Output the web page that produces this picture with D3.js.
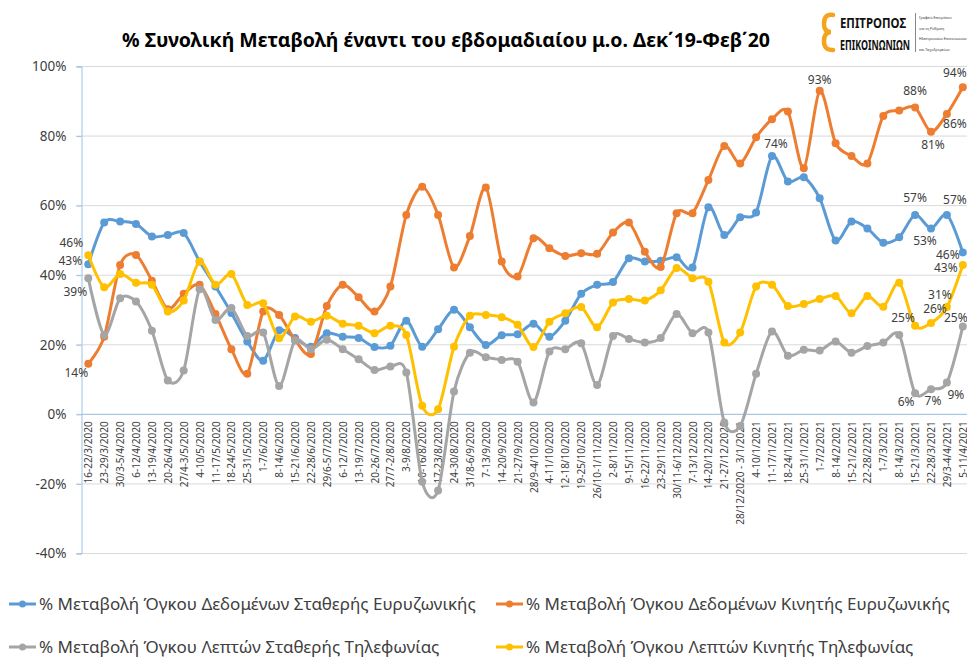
<!DOCTYPE html>
<html>
<head>
<meta charset="utf-8">
<script src="https://cdn.jsdelivr.net/npm/d3@7"></script>
<style>
  body { margin: 0; background: #fff; }
  text { font-family: 'Noto Sans', 'Open Sans', sans-serif; }
</style>
</head>
<body>
<div id="chart-area"></div>
<script>
// weekly categories
let categories = [
  '16-22/3/2020', '23-29/3/2020', '30/3-5/4/2020', '6-12/4/2020', '13-19/4/2020',
  '20-26/4/2020', '27/4-3/5/2020', '4-10/5/2020', '11-17/5/2020', '18-24/5/2020',
  '25-31/5/2020', '1-7/6/2020', '8-14/6/2020', '15-21/6/2020', '22-28/6/2020',
  '29/6-5/7/2020', '6-12/7/2020', '13-19/7/2020', '20-26/7/2020', '27/7-2/8/2020',
  '3-9/8/2020', '10-16/8/2020', '17-23/8/2020', '24-30/8/2020', '31/8-6/9/2020',
  '7-13/9/2020', '14-20/9/2020', '21-27/9/2020', '28/9-4/10/2020', '4-11/10/2020',
  '12-18/10/2020', '19-25/10/2020', '26/10-1/11/2020', '2-8/11/2020', '9-15/11/2020',
  '16-22/11/2020', '23-29/11/2020', '30/11-6/12/2020', '7-13/12/2020', '14-20/12/2020',
  '21-27/12/2020', '28/12/2020 - 3/1/2021', '4-10/1/2021', '11-17/1/2021', '18-24/1/2021',
  '25-31/1/2021', '1-7/2/2021', '8-14/2/2021', '15-21/2/2021', '22-28/2/2021',
  '1-7/3/2021', '8-14/3/2021', '15-21/3/2021', '22-28/3/2021', '29/3-4/4/2021',
  '5-11/4/2021'
];

let fixedBroadband = [
  43, 55, 55.3, 54.6, 51, 51.4, 52, 43.8, 36.6, 29,
  20.8, 15.3, 24, 21.8, 19.3, 23.2, 22.2, 21.8, 19.2, 19.6,
  26.8, 19.3, 24.3, 29.9, 24.9, 19.8, 22.6, 22.9, 25.9, 22.2,
  26.8, 34.5, 37.1, 37.9, 44.7, 43.8, 44, 45, 42.1, 59.4,
  51.4, 56.5, 57.9, 74.1, 66.8, 68, 62, 49.8, 55.3, 53.3,
  49.2, 50.8, 57.2, 53.3, 57.2, 46.4
];

let mobileBroadband = [
  14.4, 22.2, 42.8, 45.7, 38.3, 30.1, 34.5, 37.1, 28.7, 18.6,
  11.5, 29.4, 28.4, 21.3, 17.2, 31, 37.1, 33.5, 29.4, 36.6,
  57.2, 65.3, 57.2, 42.1, 51.1, 65.1, 43.8, 39.5, 50.5, 47.6,
  45.4, 46.2, 46, 52.1, 55, 46.6, 42.2, 57.7, 57.7, 67.2,
  77, 72, 79.5, 84.7, 86.9, 70.6, 92.9, 77.8, 74.1, 72,
  85.6, 87.2, 88.1, 81.1, 86.2, 93.9
];

let fixedTelephony = [
  39, 22.7, 33.2, 32.3, 23.9, 9.6, 12.5, 35.8, 27, 30.4,
  22.4, 23.4, 8, 21.1, 18.6, 21.3, 18.6, 15.7, 12.6, 13.6,
  11.9, -19.5, -22, 6.4, 17.6, 16.3, 15.5, 15, 3.3, 17.9,
  18.6, 20.3, 8.3, 22.4, 21.5, 20.5, 21.8, 28.7, 23.2, 23.4,
  -2.5, -3.5, 11.5, 23.7, 16.7, 18.4, 18.2, 20.8, 17.6, 19.5,
  20.5, 22.7, 5.9, 7.1, 9, 25.1
];

let mobileTelephony = [
  45.6, 36.4, 40.2, 37.7, 37.1, 29.4, 32.6, 43.8, 37.1, 40.2,
  31.3, 31.8, 21.7, 28, 26.5, 28.2, 25.9, 25.3, 23.2, 25.3,
  22.7, 2.3, 1.3, 19.3, 28.2, 28.4, 27.8, 25.6, 19.2, 26.5,
  28.9, 30.7, 24.9, 32, 33, 32.6, 35.5, 41.9, 39, 38,
  20.5, 23.4, 36.6, 37.1, 31, 31.6, 33, 33.9, 28.9, 33.9,
  30.8, 37.7, 25.3, 26.1, 30.7, 42.8
];

let seriesNames = [
  '% Μεταβολή Όγκου Δεδομένων Σταθερής Ευρυζωνικής',
  '% Μεταβολή Όγκου Δεδομένων Κινητής Ευρυζωνικής',
  '% Μεταβολή Όγκου Λεπτών Σταθερής Τηλεφωνίας',
  '% Μεταβολή Όγκου Λεπτών Κινητής Τηλεφωνίας'
];

let seriesColors = ['#5b9bd5', '#ed7d31', '#a5a5a5', '#ffc000'];

let yTicks = [-40, -20, 0, 20, 40, 60, 80, 100];

// which points carry a value label, and where it sits relative to the point
let dataLabels = [
  { s: 0, i: 0, dx: -18, dy: -3 }, { s: 1, i: 0, dx: -12, dy: 9 },
  { s: 2, i: 0, dx: -13, dy: 14 }, { s: 3, i: 0, dx: -17, dy: -12 },
  { s: 1, i: 46, dx: 0, dy: -11 }, { s: 0, i: 43, dx: 4, dy: -12 },
  { s: 1, i: 52, dx: 0, dy: -17 }, { s: 1, i: 53, dx: 2, dy: 13 },
  { s: 1, i: 54, dx: 8, dy: 10 }, { s: 1, i: 55, dx: -8, dy: -14 },
  { s: 0, i: 52, dx: 0, dy: -17 }, { s: 0, i: 53, dx: -6, dy: 12 },
  { s: 0, i: 54, dx: 8, dy: -15 }, { s: 0, i: 55, dx: -15, dy: 2 },
  { s: 3, i: 52, dx: -12, dy: -8 }, { s: 3, i: 53, dx: 4, dy: -14 },
  { s: 3, i: 54, dx: -7, dy: -12 }, { s: 3, i: 55, dx: -17, dy: 3 },
  { s: 2, i: 52, dx: -9, dy: 8 }, { s: 2, i: 53, dx: 2, dy: 12 },
  { s: 2, i: 54, dx: 9, dy: 12 }, { s: 2, i: 55, dx: -7, dy: -9 }
];

LineChart = function(_parentElement){
  this.parentElement = _parentElement;

  this.initVis();
};

LineChart.prototype.initVis = function(){
  let vis = this;

  vis.width = 967;
  vis.height = 657;

  vis.series = [fixedBroadband, mobileBroadband, fixedTelephony, mobileTelephony];

  vis.svg = d3.select(vis.parentElement)
    .append('svg')
    .attr('width', vis.width)
    .attr('height', vis.height);

  vis.x = d3.scalePoint()
    .domain(categories)
    .range([88.3, 962.8]);

  vis.y = d3.scaleLinear()
    .domain([-40, 100])
    .range([553, 66]);

  // Title
  vis.svg.append('text')
    .attr('x', 446)
    .attr('y', 47)
    .attr('text-anchor', 'middle')
    .attr('font-size', '19.5px')
    .attr('font-weight', 'bold')
    .attr('fill', '#000')
    .text('% Συνολική Μεταβολή έναντι του εβδομαδιαίου μ.ο. Δεκ΄19-Φεβ΄20');

  vis.drawLogo();

  // gridlines
  vis.svg.append('g')
    .attr('class', 'grid')
    .selectAll('line')
    .data(yTicks)
    .enter()
    .append('line')
    .attr('x1', 76)
    .attr('x2', 967)
    .attr('y1', d => vis.y(d) + 0.5)
    .attr('y2', d => vis.y(d) + 0.5)
    .attr('stroke', '#d9d9d9')
    .attr('stroke-width', 1);

  // Y axis
  vis.yAxisCall = d3.axisLeft(vis.y)
    .tickValues(yTicks)
    .tickSize(5)
    .tickPadding(10)
    .tickFormat(d => d + '%');

  vis.yAxis = vis.svg.append('g')
    .attr('class', 'y axis')
    .attr('transform', 'translate(81.5, 0.5)')
    .call(vis.yAxisCall);

  vis.yAxis.select('.domain').attr('stroke', '#9dc3e6');
  vis.yAxis.selectAll('.tick line').attr('stroke', '#9dc3e6');
  vis.yAxis.selectAll('.tick text')
    .attr('font-size', '13.5px')
    .attr('font-family', "'Noto Sans', sans-serif")
    .attr('fill', '#404040');

  // X axis at zero
  vis.xAxisCall = d3.axisBottom(vis.x)
    .tickSize(0)
    .tickPadding(0);

  vis.xAxis = vis.svg.append('g')
    .attr('class', 'x axis')
    .attr('transform', 'translate(0, ' + (vis.y(0) + 0.5) + ')')
    .call(vis.xAxisCall);

  vis.xAxis.select('.domain')
    .attr('d', 'M81.5,0H967')
    .attr('stroke', '#9dc3e6');

  vis.xAxis.selectAll('.tick text')
    .attr('font-size', '10px')
    .attr('font-family', "'Noto Sans', sans-serif")
    .attr('fill', '#404040')
    .attr('text-anchor', 'end')
    .attr('transform', 'translate(0, 7) rotate(-90)')
    .attr('x', 0)
    .attr('y', 0)
    .attr('dy', '0.35em');

  // lines
  vis.line = d3.line()
    .x((d, i) => vis.x(categories[i]))
    .y(d => vis.y(d))
    .curve(d3.curveCardinal.tension(0.15));

  vis.series.forEach(function(values, s){
    let g = vis.svg.append('g').attr('class', 'series-' + s);

    g.append('path')
      .datum(values)
      .attr('d', vis.line)
      .attr('fill', 'none')
      .attr('stroke', seriesColors[s])
      .attr('stroke-width', 3)
      .attr('stroke-linejoin', 'round');

    g.selectAll('circle')
      .data(values)
      .enter()
      .append('circle')
      .attr('cx', (d, i) => vis.x(categories[i]))
      .attr('cy', d => vis.y(d))
      .attr('r', 4)
      .attr('fill', seriesColors[s]);
  });

  // value labels
  vis.svg.append('g')
    .attr('class', 'data-labels')
    .selectAll('text')
    .data(dataLabels)
    .enter()
    .append('text')
    .attr('x', d => vis.x(categories[d.i]) + d.dx)
    .attr('y', d => vis.y(vis.series[d.s][d.i]) + d.dy)
    .attr('dy', '0.35em')
    .attr('text-anchor', 'middle')
    .attr('font-size', '12px')
    .attr('fill', '#404040')
    .text(d => Math.round(vis.series[d.s][d.i]) + '%');

  // legend
  let legendPos = [[9, 604], [496, 604], [9, 647], [496, 647]];

  let legend = vis.svg.append('g')
    .attr('class', 'legend')
    .selectAll('g')
    .data(seriesNames)
    .enter()
    .append('g')
    .attr('transform', (d, i) => 'translate(' + legendPos[i][0] + ', ' + legendPos[i][1] + ')');

  legend.append('line')
    .attr('x1', 0)
    .attr('x2', 27)
    .attr('stroke', (d, i) => seriesColors[i])
    .attr('stroke-width', 3);

  legend.append('circle')
    .attr('cx', 13.5)
    .attr('r', 3.5)
    .attr('fill', (d, i) => seriesColors[i]);

  legend.append('text')
    .attr('x', 30)
    .attr('dy', '0.35em')
    .attr('font-size', '17px')
    .attr('fill', '#404040')
    .text(d => d);
};

LineChart.prototype.drawLogo = function(){
  let vis = this;

  let logo = vis.svg.append('g').attr('class', 'logo');

  logo.append('path')
    .attr('d', 'M833,15 C826,14 824,18 824,24 C824,29 826,32 831,32 C826,32 824,36 824,41 C824,47 826,50 833,50')
    .attr('fill', 'none')
    .attr('stroke', '#f5a31a')
    .attr('stroke-width', 4.5)
    .attr('stroke-linecap', 'round');

  logo.append('text')
    .attr('x', 840)
    .attr('y', 28)
    .attr('font-family', "'DejaVu Sans Condensed', 'DejaVu Sans', sans-serif")
    .attr('font-weight', 'bold')
    .attr('font-size', '15px')
    .attr('textLength', 66)
    .attr('lengthAdjust', 'spacingAndGlyphs')
    .attr('fill', '#111')
    .text('ΕΠΙΤΡΟΠΟΣ');

  logo.append('text')
    .attr('x', 840)
    .attr('y', 50)
    .attr('font-family', "'DejaVu Sans Condensed', 'DejaVu Sans', sans-serif")
    .attr('font-weight', 'bold')
    .attr('font-size', '15px')
    .attr('textLength', 70)
    .attr('lengthAdjust', 'spacingAndGlyphs')
    .attr('fill', '#111')
    .text('ΕΠΙΚΟΙΝΩΝΙΩΝ');

  logo.append('line')
    .attr('x1', 915.5).attr('x2', 915.5)
    .attr('y1', 13).attr('y2', 52)
    .attr('stroke', '#888')
    .attr('stroke-width', 1);

  let small = ['Γραφείο Επιτρόπου', 'για τη Ρύθμιση', 'Ηλεκτρονικών Επικοινωνιών', 'και Ταχυδρομείων'];

  logo.selectAll('.small')
    .data(small)
    .enter()
    .append('text')
    .attr('class', 'small')
    .attr('x', 919)
    .attr('y', (d, i) => 19 + i * 10.5)
    .attr('font-size', '3.6px')
    .attr('fill', '#333')
    .text(d => d);
};

new LineChart('#chart-area');
</script>
</body>
</html>
